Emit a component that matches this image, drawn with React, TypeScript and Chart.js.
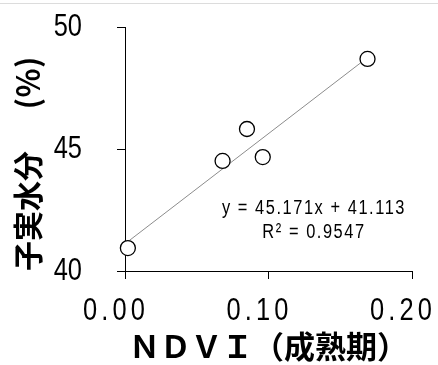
import React, { useEffect, useRef } from "react";
import { Chart, registerables } from "chart.js";

Chart.register(...registerables);

// ---- data ----
const ndvi = [0.002, 0.068, 0.085, 0.096, 0.169];
const moisture = [40.94, 44.51, 45.82, 44.67, 48.69];
const xTickValues = [0, 0.1, 0.2];
const yTickValues = [40, 45, 50];
const slope = 45.171;
const intercept = 41.113;
const rSquared = 0.9547;
const xTitle = "ＮＤＶＩ（成熟期）";
const yTitleMain = "子実水分";
const yTitleUnit = "(％)";
const equationLines = [
  `y = ${slope.toFixed(3)}x + ${intercept.toFixed(3)}`,
  `R² = ${rSquared.toFixed(4)}`,
];

// anchor of the equation text (data units)
const eqAnchorX = 0.1317;
const eqAnchorY = [42.58, 41.56];

const SANS = "'Liberation Sans', Arial, sans-serif";
const CJK = "'Noto Sans CJK JP', 'Noto Sans', sans-serif";
const SQUEEZE = 0.82;

function drawCondensed(
  ctx: CanvasRenderingContext2D,
  text: string,
  x: number,
  y: number,
  size: number,
  align: CanvasTextAlign,
  spacing: number
) {
  ctx.save();
  ctx.translate(x, y);
  ctx.scale(SQUEEZE, 1);
  ctx.font = `${size}px ${SANS}`;
  (ctx as any).letterSpacing = `${spacing}px`;
  ctx.textAlign = align;
  ctx.textBaseline = "middle";
  ctx.fillStyle = "#000";
  ctx.fillText(text, 0, 0);
  ctx.restore();
}

const textPlugin = {
  id: "condensedText",
  afterDatasetsDraw(chart: any) {
    const { ctx, scales } = chart;
    const xs = scales.x;
    const ys = scales.y;
    // y tick labels
    yTickValues.forEach((v) => {
      drawCondensed(ctx, String(v), 82, ys.getPixelForValue(v), 31, "right", 0);
    });
    // x tick labels
    xTickValues.forEach((v) => {
      drawCondensed(ctx, v.toFixed(2), xs.getPixelForValue(v) - 9, 311, 31, "center", 5);
    });
    // regression equation
    const px = xs.getPixelForValue(eqAnchorX);
    equationLines.forEach((line, i) => {
      drawCondensed(ctx, line, px, ys.getPixelForValue(eqAnchorY[i]), 20, "center", 1.9);
    });
    // y-axis title (vertical, bottom to top)
    const bottom = chart.chartArea.bottom;
    ctx.save();
    ctx.translate(28, 0);
    ctx.rotate(-Math.PI / 2);
    ctx.font = `bold 30px ${CJK}`;
    ctx.textBaseline = "middle";
    ctx.fillStyle = "#000";
    ctx.textAlign = "left";
    ctx.fillText(yTitleMain, -bottom, 0);
    ctx.textAlign = "center";
    ctx.fillText(yTitleUnit, -83, 0);
    ctx.restore();
  },
};

export default function App() {
  const canvasRef = useRef<HTMLCanvasElement | null>(null);

  useEffect(() => {
    if (!canvasRef.current) return;
    const xMin = Math.min(...ndvi);
    const xMax = Math.max(...ndvi);
    const trend = [xMin, xMax].map((x) => ({ x, y: slope * x + intercept }));

    const chart = new Chart(canvasRef.current, {
      type: "scatter",
      data: {
        datasets: [
          {
            label: "points",
            data: ndvi.map((x, i) => ({ x, y: moisture[i] })),
            pointRadius: 7.5,
            pointHoverRadius: 7.5,
            pointBorderWidth: 1.3,
            pointBorderColor: "#000",
            pointBackgroundColor: "#fff",
            showLine: false,
            clip: false,
            order: 0,
          } as any,
          {
            label: "trend",
            type: "line",
            data: trend,
            borderColor: "#8c8c8c",
            borderWidth: 1,
            pointRadius: 0,
            fill: false,
            clip: false,
            order: 1,
          } as any,
        ],
      },
      options: {
        animation: false,
        responsive: false,
        devicePixelRatio: 1,
        layout: { padding: { left: 0, right: 26, top: 27, bottom: 0 } },
        plugins: { legend: { display: false }, tooltip: { enabled: false } },
        scales: {
          x: {
            type: "linear",
            min: 0,
            max: 0.2,
            afterBuildTicks: (s: any) => {
              s.ticks = xTickValues.map((v) => ({ value: v }));
            },
            ticks: { display: false },
            grid: {
              drawOnChartArea: false,
              drawTicks: true,
              tickLength: 8,
              color: "#000",
              lineWidth: 1,
            },
            border: { display: true, color: "#000", width: 1 },
            title: {
              display: true,
              text: xTitle,
              font: { family: CJK, size: 31, weight: "bold" },
              color: "#000",
              padding: { top: 0, bottom: 0 },
            },
            afterFit: (s: any) => {
              s.height = 94;
              s.paddingLeft = 0;
              s.paddingRight = 0;
            },
          },
          y: {
            type: "linear",
            min: 40,
            max: 50,
            z: 1,
            afterBuildTicks: (s: any) => {
              s.ticks = yTickValues.map((v) => ({ value: v }));
            },
            ticks: { display: false },
            grid: {
              drawOnChartArea: false,
              drawTicks: true,
              tickLength: 8,
              color: "#000",
              lineWidth: 1,
            },
            border: { display: true, color: "#000", width: 1 },
            title: { display: false },
            afterFit: (s: any) => {
              s.width = 125;
              s.paddingTop = 0;
              s.paddingBottom = 0;
            },
          },
        },
      } as any,
      plugins: [textPlugin],
    });
    return () => chart.destroy();
  }, []);

  return (
    <div style={{ position: "absolute", left: 0, top: 0, width: 438, height: 365, background: "#fff" }}>
      <div style={{ position: "absolute", left: 0, top: 3, width: 438, height: 1, background: "#dcdcdc" }} />
      <canvas ref={canvasRef} width={438} height={365} style={{ display: "block", width: 438, height: 365 }} />
    </div>
  );
}
